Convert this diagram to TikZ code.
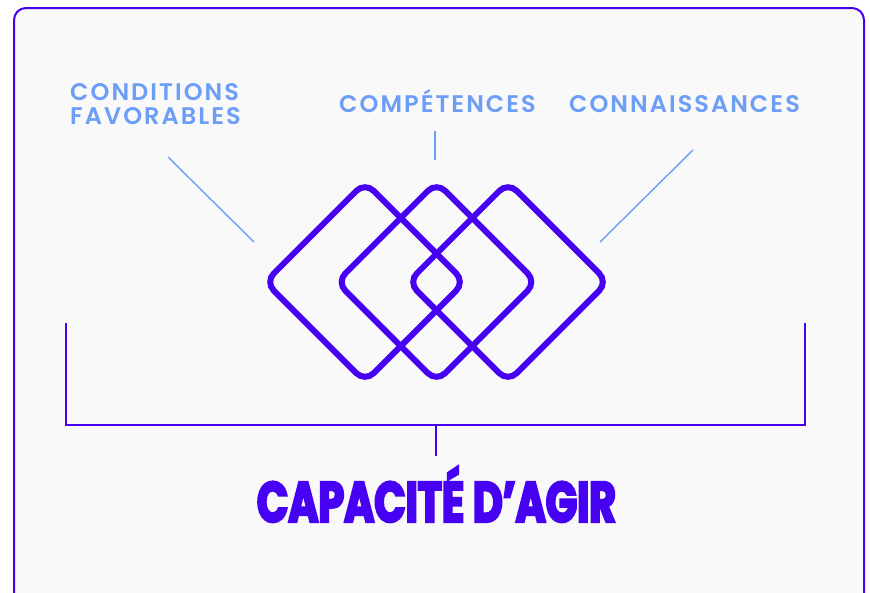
\documentclass[tikz,border=0pt]{standalone}
\usepackage{fontspec}
\usepackage{xcolor}
\usetikzlibrary{shapes.geometric}
\newfontfamily\labelfont{Poppins SemiBold}[LetterSpace=8.5]
\newfontfamily\agirfont{Poppins}[FakeStretch=0.72,FakeBold=4]
\definecolor{agir}{HTML}{4600F2}
\definecolor{sky}{HTML}{6C9EF8}
\definecolor{paper}{HTML}{F9F9F9}

\begin{document}
\begin{tikzpicture}[x=1pt, y=-1pt,
  losange/.style={diamond, draw=agir, line width=6pt, rounded corners=12pt, minimum width=202pt, minimum height=202pt, inner sep=0pt},
  lien/.style={sky, line width=1.4pt},
  etiquette/.style={text=sky, font=\labelfont\fontsize{24}{24}\selectfont, inner sep=0pt},
  accolade/.style={agir, line width=1.8pt}]
  \useasboundingbox (0,0) rectangle (870,592);
  \fill[white] (0,0) rectangle (870,592);
  \clip (0,0) rectangle (870,592);
  \draw[draw=agir, fill=paper, line width=2pt, rounded corners=12pt] (14,8) rectangle (864,606);
  \node[losange] (gauche) at (365,282) {};
  \node[losange] (milieu) at (436.5,282) {};
  \node[losange] (droite) at (508,282) {};
  \node[etiquette, anchor=north west, align=left] (conditions) at (70,83) {CONDITIONS\\FAVORABLES};
  \node[etiquette, anchor=base] (competences) at (437.5,112) {COMPÉTENCES};
  \node[etiquette, anchor=base] (connaissances) at (684.5,112) {CONNAISSANCES};
  \node[text=agir, font=\agirfont\bfseries\fontsize{57}{57}\selectfont, inner sep=0pt, anchor=base] (capacite) at (436.5,522) {CAPACITÉ D’AGIR};
  \coordinate (l1) at (168,157);
  \coordinate (l2) at (254,242);
  \coordinate (m1) at (435,131);
  \coordinate (m2) at (435,160);
  \coordinate (r1) at (693,150);
  \coordinate (r2) at (600,242);
  \draw[lien] (l1) -- (l2);
  \draw[lien] (m1) -- (m2);
  \draw[lien] (r1) -- (r2);
  \coordinate (b1) at (66,323);
  \coordinate (b2) at (66,425);
  \coordinate (b3) at (805,425);
  \coordinate (b4) at (805,323);
  \coordinate (t1) at (436,425);
  \coordinate (t2) at (436,456);
  \draw[accolade] (b1) -- (b2) -- (b3) -- (b4);
  \draw[accolade] (t1) -- (t2);
\end{tikzpicture}
\end{document}
